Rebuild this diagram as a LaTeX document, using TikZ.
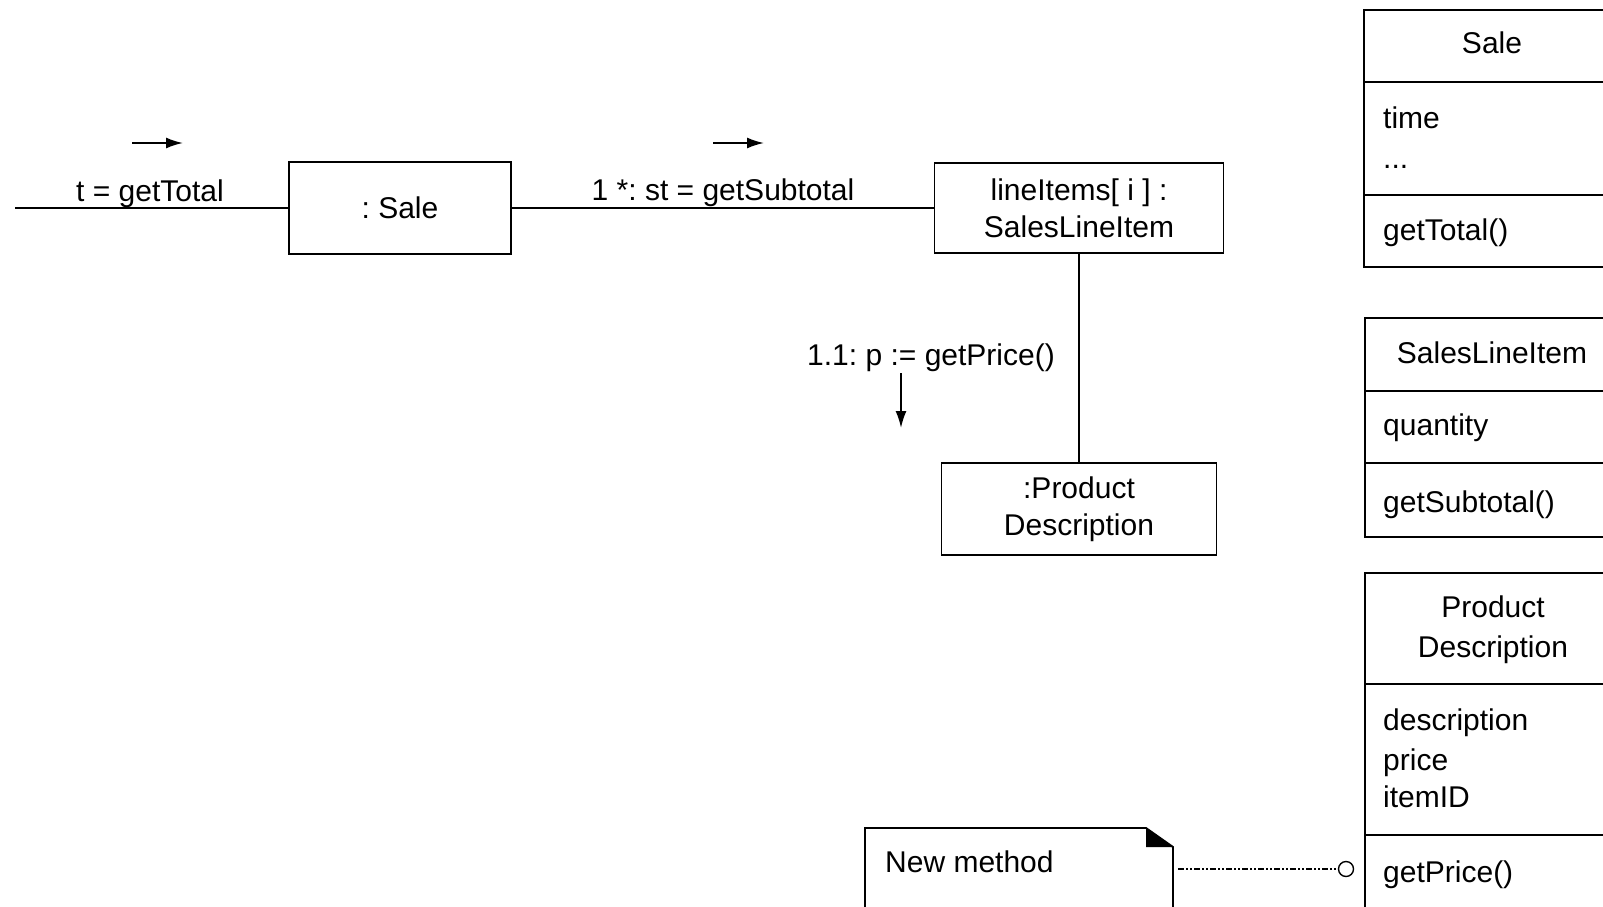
\documentclass[tikz,border=0pt]{standalone}
\usepackage{fontspec}
\setmainfont{Liberation Sans}
\usetikzlibrary{arrows.meta}
\frenchspacing
\tikzset{
  lw/.style={line width=1.9pt},
  txt/.style={font=\fontsize{30}{37}\selectfont, inner sep=0pt},
  objbox/.style={draw, lw, rectangle, align=center, inner sep=0pt, font=\fontsize{30}{37}\selectfont},
  msgarrow/.style={lw, -{Latex[length=17pt,width=11pt]}},
  link/.style={lw},
  notelink/.style={line width=1.1pt, dash pattern=on 6pt off 2pt on 2pt off 2pt on 2pt off 2pt},
}
\begin{document}
\begin{tikzpicture}[x=1pt,y=-1pt]
\useasboundingbox (0,0) rectangle (1603,906);
\clip (0,0) rectangle (1603,906);
\fill[white] (0,0) rectangle (1603,906);

% object boxes
\node[objbox, minimum width=222pt, minimum height=92pt] (sale) at (400,208) {: Sale};
\node[objbox, minimum width=289pt, minimum height=90pt] (li) at (1079,208) {lineItems[ i ] :\\SalesLineItem};
\node[objbox, minimum width=275pt, minimum height=92pt] (pd) at (1079,509) {:Product\\Description};

% links
\coordinate (start) at (15,208);
\draw[link] (start) -- (sale.west);
\draw[link] (sale.east) -- (li.west);
\draw[link] (li.south) -- (pd.north);

% message labels
\node[txt, anchor=base] (m0) at (150,201) {t = getTotal};
\node[txt, anchor=base] (m1) at (723,200) {1 *: st = getSubtotal};
\node[txt, anchor=base] (m2) at (931,365) {1.1: p := getPrice()};

% message arrows
\coordinate (a0s) at (132,143); \coordinate (a0e) at (183,143);
\draw[msgarrow] (a0s) -- (a0e);
\coordinate (a1s) at (713,143); \coordinate (a1e) at (764,143);
\draw[msgarrow] (a1s) -- (a1e);
\coordinate (a2s) at (901,373); \coordinate (a2e) at (901,428);
\draw[msgarrow] (a2s) -- (a2e);

% class Sale
\draw[lw] (1650,10) -- (1364,10) -- (1364,267) -- (1650,267);
\draw[lw] (1364,82) -- (1650,82);
\draw[lw] (1364,195) -- (1650,195);
\node[txt, anchor=base] (cs) at (1492,53) {Sale};
\node[txt, anchor=base west] (cs1) at (1383,128) {time};
\node[txt, anchor=base west] (cs2) at (1383,168) {...};
\node[txt, anchor=base west] (cs3) at (1383,240) {getTotal()};

% class SalesLineItem
\draw[lw] (1650,318) -- (1365,318) -- (1365,537) -- (1650,537);
\draw[lw] (1365,391) -- (1650,391);
\draw[lw] (1365,463) -- (1650,463);
\node[txt, anchor=base] (cl) at (1492,363) {SalesLineItem};
\node[txt, anchor=base west] (cl1) at (1383,435) {quantity};
\node[txt, anchor=base west] (cl2) at (1383,512) {getSubtotal()};

% class ProductDescription
\draw[lw] (1650,573) -- (1365,573) -- (1365,920);
\draw[lw] (1365,684) -- (1650,684);
\draw[lw] (1365,835) -- (1650,835);
\node[txt, anchor=base] (cp) at (1493,617) {Product};
\node[txt, anchor=base] (cp0) at (1493,657) {Description};
\node[txt, anchor=base west] (cp1) at (1383,730) {description};
\node[txt, anchor=base west] (cp2) at (1383,770) {price};
\node[txt, anchor=base west] (cp3) at (1383,807) {itemID};
\node[txt, anchor=base west] (cp4) at (1383,882) {getPrice()};

% note
\draw[lw] (865,920) -- (865,828) -- (1146,828) -- (1173,847) -- (1173,920);
\fill (1146,828) -- (1146,847) -- (1173,847) -- cycle;
\node[txt, anchor=base west] (nt) at (885,872) {New method};
\coordinate (noteR) at (1178,869);
\node[draw, circle, line width=1.4pt, minimum size=15pt, inner sep=0pt] (circ) at (1346,869) {};
\draw[notelink] (noteR) -- (circ.west);
\end{tikzpicture}
\end{document}
